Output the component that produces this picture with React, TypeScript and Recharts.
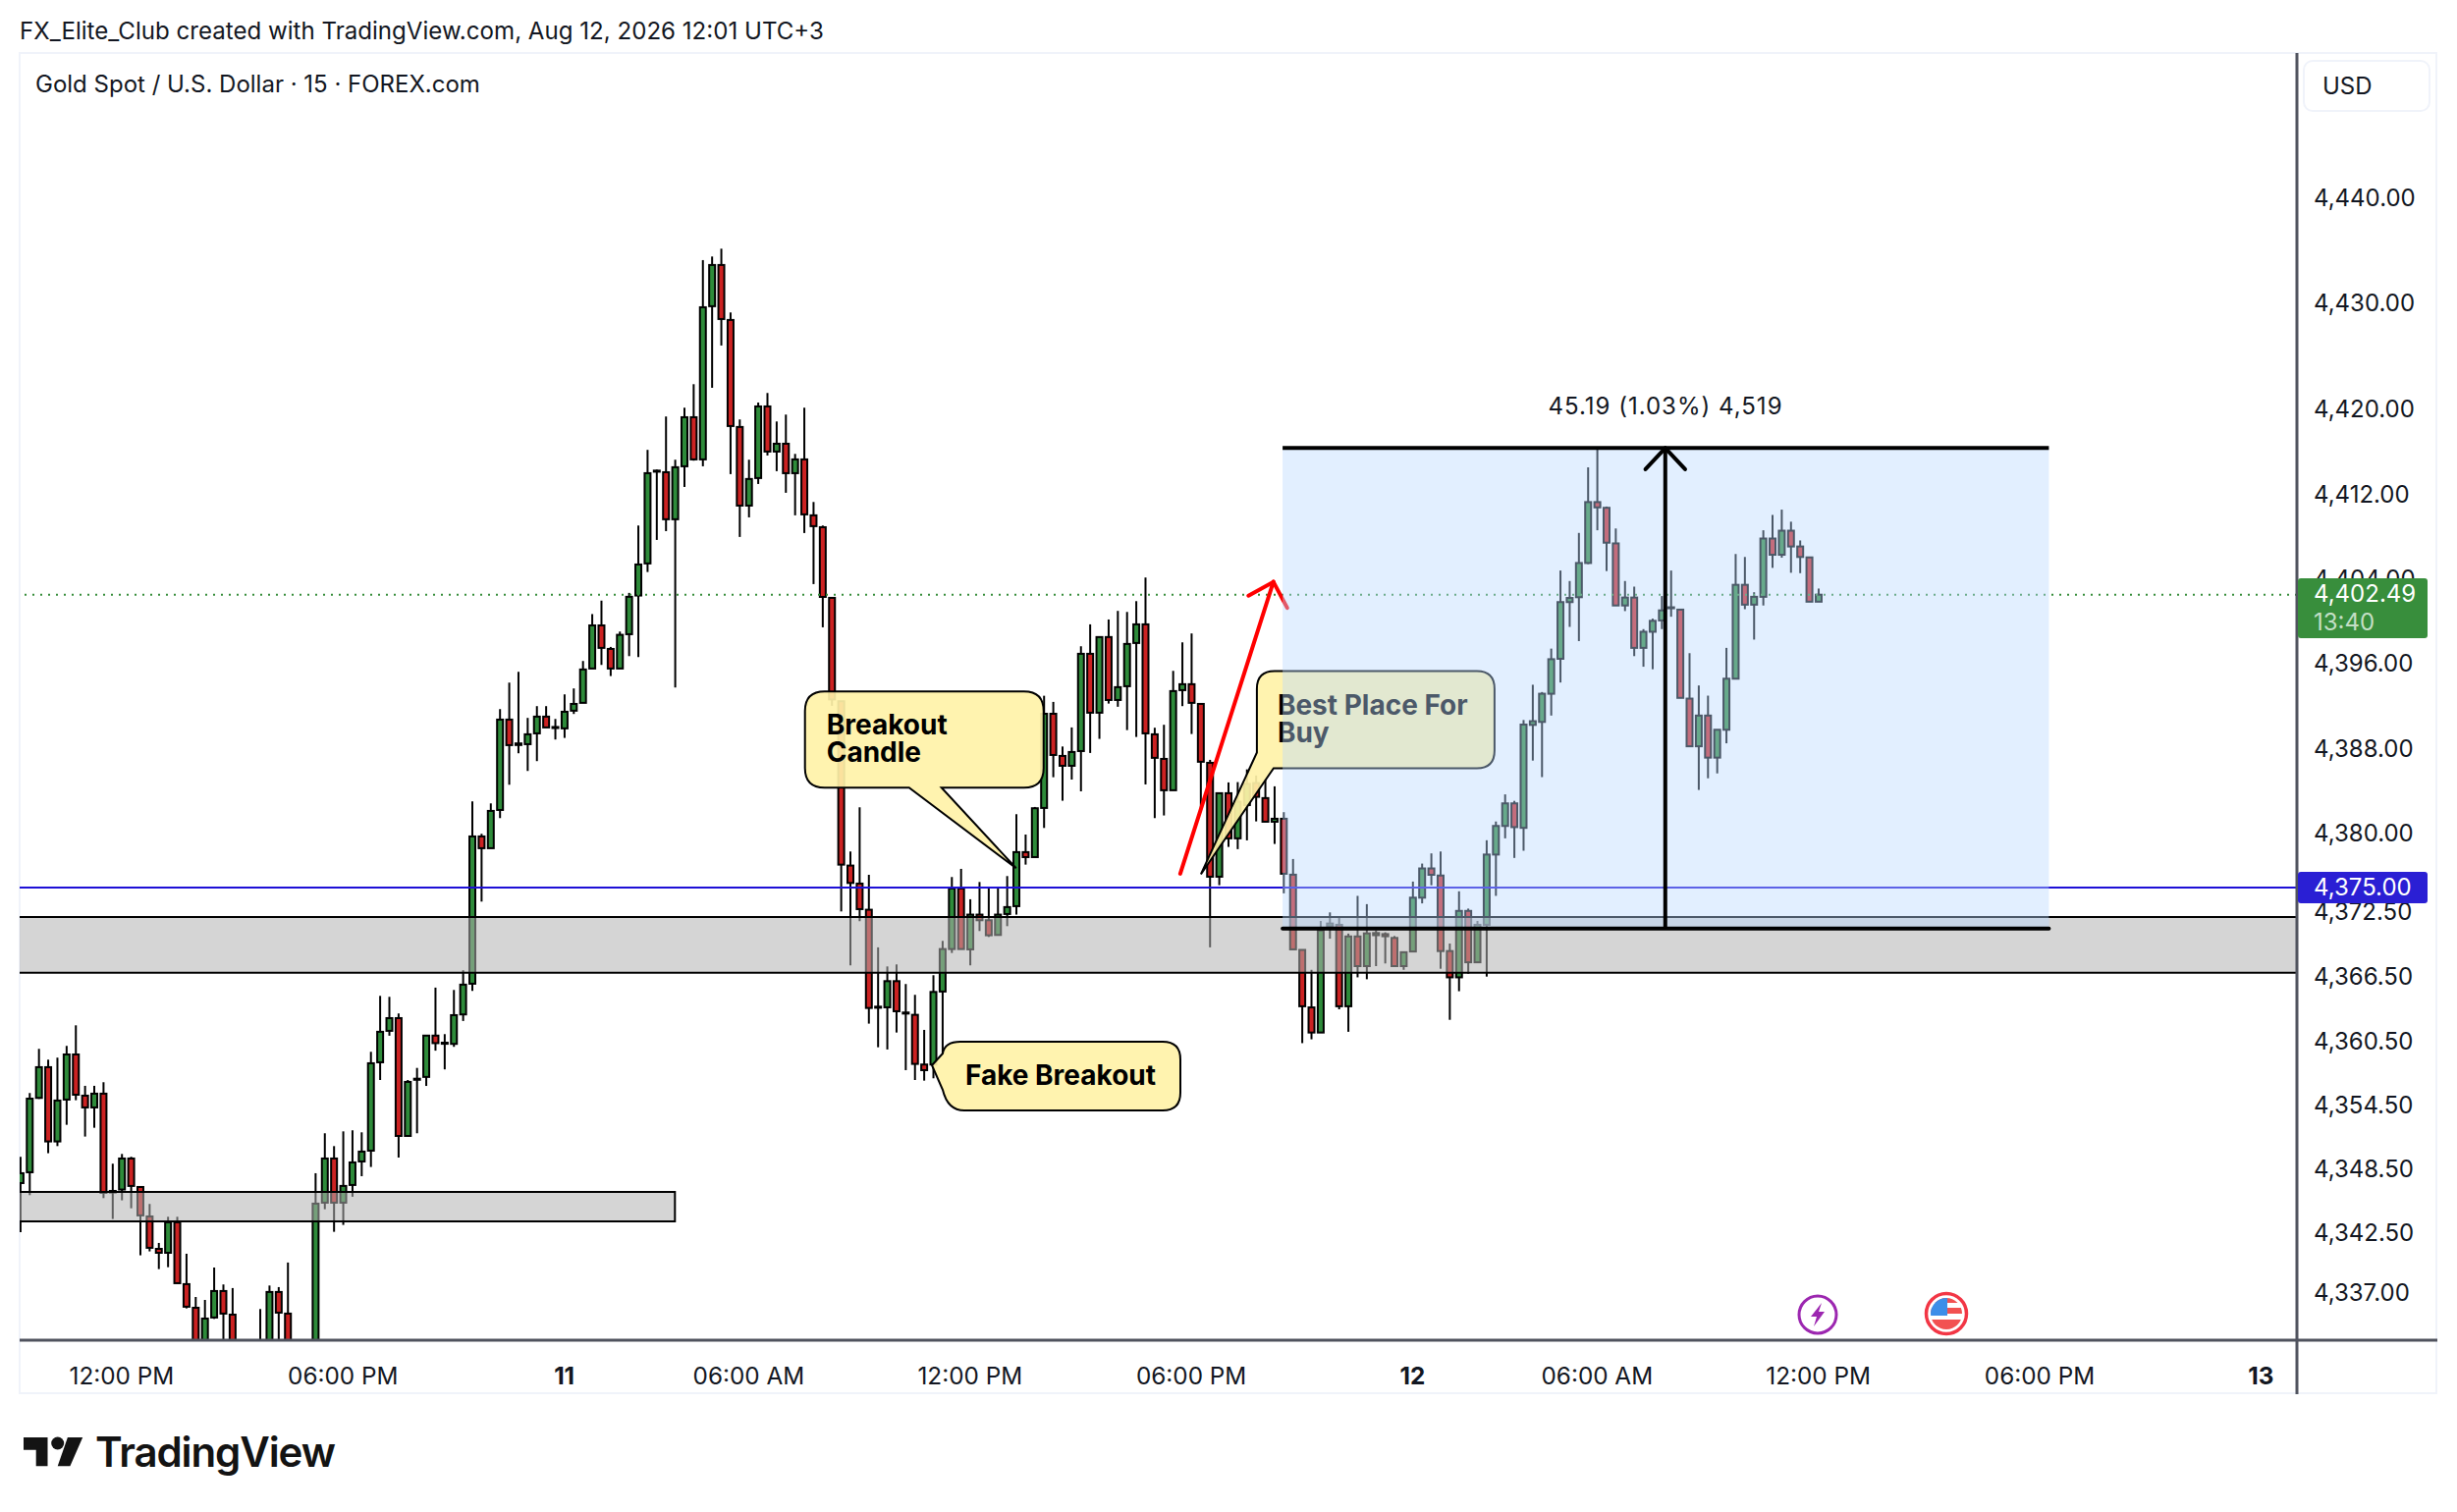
import React from 'react'
import {
  ComposedChart,
  Bar,
  XAxis,
  YAxis,
  ReferenceArea,
  ReferenceLine,
  ReferenceDot
} from 'recharts'

const W = 2502
const H = 1540
const FONT = 'Inter, Roboto, sans-serif'

// 15 min candles, index 0 is the one cut by the left edge
const opens = [
  4346.95, 4347.97, 4354.99, 4357.89, 4350.88, 4354.83, 4359.09, 4355.2, 4354.09, 4355.39,
  4346.06, 4346.34, 4349.27, 4346.58, 4343.8, 4340.74, 4340.37, 4343.25, 4337.41, 4335.18,
  4330.5, 4334.26, 4336.76, 4334.53, 4330.0, 4331.1, 4329.8, 4331.2, 4336.67, 4334.63,
  4331.2, 4330.4, 4330.9, 4345.1, 4349.27, 4345.1, 4346.77, 4348.99, 4350.01, 4358.35,
  4361.32, 4362.52, 4351.4, 4356.7, 4356.97, 4360.87, 4360.2, 4360.09, 4362.87, 4365.77,
  4379.67, 4378.56, 4382.17, 4390.7, 4388.3, 4388.38, 4389.4, 4390.98, 4390.0, 4389.87,
  4391.54, 4392.28, 4395.52, 4399.59, 4397.37, 4395.52, 4398.76, 4402.41, 4405.44, 4414.1,
  4414.05, 4409.61, 4414.61, 4419.24, 4415.26, 4429.72, 4433.61, 4428.42, 4418.32, 4410.9,
  4413.5, 4420.26, 4416.0, 4416.74, 4413.96, 4415.26, 4409.98, 4408.86, 4402.19, 4392.43,
  4376.92, 4375.22, 4372.75, 4363.5, 4363.54, 4366.01, 4363.05, 4362.83, 4358.14, 4358.14,
  4365.03, 4369.04, 4374.76, 4369.01, 4372.29, 4371.76, 4370.37, 4372.35, 4373.09, 4378.19,
  4377.72, 4382.36, 4391.25, 4387.27, 4386.34, 4387.73, 4396.91, 4391.35, 4398.49, 4392.55,
  4393.85, 4397.93, 4399.69, 4389.31, 4386.99, 4384.03, 4393.48, 4394.04, 4392.18, 4386.62,
  4375.87, 4383.75, 4379.49, 4382.63, 4384.71, 4383.29, 4381.06, 4381.34, 4376.06, 4368.96,
  4363.53, 4361.16, 4371.2, 4371.33, 4363.64, 4370.23, 4367.43, 4370.35, 4370.45, 4370.09,
  4367.43, 4368.81, 4373.89, 4376.65, 4375.98, 4368.85, 4366.37, 4372.64, 4367.79, 4371.33,
  4377.96, 4380.66, 4382.79, 4380.48, 4390.2, 4390.48, 4393.14, 4396.44, 4401.79, 4402.25,
  4405.48, 4411.23, 4410.69, 4407.33, 4401.47, 4402.22, 4397.47, 4398.99, 4400.06, 4401.25,
  4401.08, 4392.68, 4388.18, 4391.08, 4387.11, 4389.74, 4394.56, 4403.42, 4401.55, 4402.29,
  4407.79, 4406.26, 4408.53, 4407.04, 4406.01, 4401.83
]
const highs = [
  4349.43, 4355.45, 4359.62, 4358.6, 4358.79, 4359.9, 4361.84, 4356.13, 4356.13, 4356.47,
  4348.78, 4349.7, 4349.43, 4346.58, 4344.98, 4341.3, 4343.77, 4343.77, 4340.28, 4336.2,
  4335.92, 4338.98, 4337.38, 4337.04, 4331.7, 4331.6, 4335.06, 4337.28, 4337.13, 4339.45,
  4331.9, 4331.8, 4347.88, 4351.65, 4350.44, 4351.83, 4351.93, 4351.74, 4359.34, 4364.62,
  4364.53, 4362.96, 4356.68, 4357.82, 4360.87, 4365.4, 4361.01, 4365.18, 4367.04, 4382.98,
  4379.92, 4382.79, 4391.69, 4394.19, 4395.21, 4390.86, 4391.97, 4391.97, 4390.76, 4393.08,
  4393.64, 4396.23, 4400.66, 4401.93, 4397.56, 4399.01, 4402.66, 4409.02, 4416.16, 4414.3,
  4419.31, 4415.23, 4420.14, 4422.36, 4434.07, 4434.41, 4435.15, 4429.13, 4419.03, 4415.23,
  4420.63, 4421.53, 4418.84, 4419.49, 4415.78, 4420.14, 4411.24, 4409.02, 4402.19, 4392.43,
  4378.25, 4382.42, 4376.05, 4369.2, 4367.4, 4367.59, 4365.74, 4364.72, 4361.41, 4366.57,
  4369.81, 4375.84, 4376.61, 4373.74, 4375.37, 4374.85, 4374.85, 4375.93, 4381.77, 4379.85,
  4382.45, 4392.95, 4392.37, 4388.16, 4389.96, 4397.62, 4399.69, 4398.49, 4400.15, 4400.96,
  4400.86, 4401.88, 4404.11, 4389.93, 4390.21, 4395.3, 4397.99, 4398.83, 4392.18, 4386.9,
  4383.75, 4384.77, 4384.8, 4386.0, 4385.42, 4385.1, 4384.4, 4381.96, 4377.54, 4368.96,
  4367.08, 4371.69, 4372.5, 4372.04, 4370.5, 4374.06, 4373.28, 4370.8, 4370.62, 4370.27,
  4368.74, 4375.41, 4377.11, 4378.07, 4378.25, 4369.56, 4374.49, 4372.86, 4371.69, 4379.31,
  4381.08, 4383.64, 4383.03, 4390.66, 4393.99, 4393.3, 4397.4, 4404.77, 4403.78, 4408.32,
  4414.51, 4416.2, 4410.81, 4408.74, 4403.78, 4403.25, 4399.24, 4400.23, 4402.36, 4404.77,
  4401.08, 4396.97, 4393.92, 4392.96, 4389.74, 4397.47, 4406.33, 4406.05, 4402.72, 4408.57,
  4410.02, 4410.52, 4409.38, 4407.61, 4406.01, 4403.07
]
const lows = [
  4342.32, 4345.81, 4354.89, 4349.77, 4350.44, 4352.45, 4354.77, 4351.34, 4352.17, 4345.53,
  4343.56, 4345.32, 4344.57, 4340.13, 4340.5, 4338.83, 4339.01, 4337.5, 4335.12, 4329.5,
  4329.8, 4334.13, 4331.0, 4330.0, 4329.5, 4329.6, 4329.4, 4330.6, 4331.0, 4330.7,
  4329.9, 4329.7, 4330.4, 4344.48, 4342.35, 4343.0, 4345.66, 4347.6, 4348.47, 4356.68,
  4360.86, 4349.36, 4351.37, 4351.65, 4356.12, 4359.45, 4357.68, 4359.81, 4362.25, 4365.09,
  4373.52, 4378.56, 4381.4, 4384.55, 4387.52, 4385.85, 4386.78, 4389.96, 4388.82, 4388.97,
  4391.23, 4392.28, 4395.5, 4395.86, 4394.81, 4395.49, 4396.69, 4396.6, 4404.63, 4407.66,
  4408.49, 4393.73, 4412.66, 4415.14, 4414.61, 4422.02, 4426.01, 4413.87, 4407.94, 4409.79,
  4412.94, 4415.63, 4414.15, 4412.11, 4409.98, 4408.31, 4403.49, 4399.41, 4392.0, 4372.59,
  4367.5, 4371.67, 4362.0, 4359.77, 4359.56, 4361.16, 4357.61, 4356.68, 4356.62, 4356.84,
  4359.1, 4368.67, 4369.04, 4367.5, 4370.74, 4370.18, 4370.31, 4371.2, 4372.29, 4377.01,
  4377.72, 4380.47, 4385.26, 4383.04, 4385.04, 4383.93, 4387.55, 4388.88, 4392.21, 4391.91,
  4389.71, 4389.06, 4384.58, 4381.4, 4381.65, 4384.03, 4391.97, 4389.34, 4382.02, 4369.2,
  4375.07, 4378.68, 4378.47, 4379.3, 4381.09, 4381.06, 4378.96, 4374.3, 4369.01, 4360.16,
  4360.52, 4361.16, 4370.02, 4363.35, 4361.23, 4366.37, 4366.19, 4367.43, 4367.68, 4367.43,
  4367.08, 4368.81, 4373.35, 4375.06, 4367.18, 4362.36, 4365.06, 4366.72, 4367.79, 4366.44,
  4374.06, 4379.49, 4377.64, 4378.32, 4386.83, 4385.27, 4391.08, 4394.2, 4399.45, 4398.11,
  4405.38, 4408.57, 4404.72, 4401.47, 4400.94, 4396.69, 4395.69, 4395.45, 4399.24, 4400.41,
  4392.75, 4388.11, 4384.06, 4385.16, 4385.62, 4388.46, 4394.56, 4401.12, 4398.25, 4401.47,
  4405.02, 4405.98, 4404.56, 4404.52, 4401.83, 4401.83
]
const closes = [
  4347.88, 4354.92, 4357.89, 4350.88, 4354.74, 4359.09, 4355.29, 4354.09, 4355.39, 4346.03,
  4346.21, 4349.27, 4346.68, 4343.9, 4340.84, 4340.37, 4343.25, 4337.5, 4335.28, 4330.43,
  4334.16, 4336.76, 4334.63, 4330.9, 4331.2, 4330.4, 4331.6, 4336.67, 4334.72, 4331.3,
  4330.3, 4331.0, 4345.01, 4349.27, 4345.1, 4346.68, 4348.9, 4349.92, 4358.26, 4361.23,
  4362.52, 4351.4, 4356.5, 4356.8, 4360.87, 4360.16, 4360.1, 4362.8, 4365.68, 4379.67,
  4378.56, 4382.08, 4390.7, 4388.29, 4388.45, 4389.31, 4390.98, 4389.96, 4389.9, 4391.44,
  4392.18, 4395.43, 4399.59, 4397.47, 4395.52, 4398.7, 4402.29, 4405.34, 4413.96, 4414.2,
  4409.61, 4414.52, 4419.24, 4415.26, 4429.62, 4433.61, 4428.51, 4418.41, 4410.9, 4413.41,
  4420.26, 4416.0, 4416.74, 4413.96, 4415.26, 4410.07, 4408.96, 4402.28, 4392.6, 4377.01,
  4375.28, 4372.81, 4363.48, 4363.6, 4366.01, 4363.17, 4362.95, 4358.2, 4357.61, 4364.99,
  4369.04, 4374.76, 4369.04, 4372.29, 4371.76, 4370.34, 4372.29, 4373.0, 4378.19, 4377.72,
  4382.33, 4391.25, 4387.36, 4386.34, 4387.64, 4396.91, 4391.35, 4398.49, 4392.55, 4393.76,
  4397.84, 4399.69, 4389.4, 4387.09, 4384.03, 4393.39, 4394.04, 4392.28, 4386.72, 4375.87,
  4383.75, 4379.49, 4382.95, 4384.63, 4383.41, 4381.06, 4381.34, 4376.15, 4369.01, 4363.64,
  4361.16, 4370.8, 4371.45, 4363.64, 4370.23, 4367.43, 4370.52, 4370.55, 4370.25, 4367.43,
  4368.74, 4373.89, 4376.65, 4376.05, 4368.85, 4366.37, 4372.64, 4367.79, 4371.33, 4377.96,
  4380.66, 4382.79, 4380.55, 4390.23, 4390.55, 4393.14, 4396.4, 4401.79, 4402.18, 4405.48,
  4411.23, 4410.73, 4407.4, 4401.47, 4402.22, 4397.47, 4398.99, 4400.02, 4401.01, 4401.3,
  4392.75, 4388.18, 4391.08, 4387.11, 4389.74, 4394.56, 4403.42, 4401.55, 4402.29, 4407.79,
  4406.26, 4408.53, 4407.04, 4406.05, 4401.83, 4402.49
]

const priceTicks = [4440, 4430, 4420, 4412, 4404, 4396, 4388, 4380, 4372.5, 4366.5, 4360.5, 4354.5, 4348.5, 4342.5, 4337]
const timeTickIndex = [11, 35, 59, 79, 103, 127, 151, 171, 195, 219, 243]
const timeTickLabels = ['12:00 PM', '06:00 PM', '11', '06:00 AM', '12:00 PM', '06:00 PM', '12', '06:00 AM', '12:00 PM', '06:00 PM', '13']
const dayLabels = ['11', '12', '13']

const candles = opens.map((open, i) => ({
  i,
  open,
  high: highs[i],
  low: lows[i],
  close: closes[i],
  range: [lows[i], highs[i]]
}))

const PRICE_DOMAIN = [4332.12, 4453.62]
const INDEX_DOMAIN = [-0.064, 246.9]
const LAST_PRICE = 4402.49
const LEVEL = 4375

const formatPrice = (v: number) =>
  v.toLocaleString('en-US', { minimumFractionDigits: 2, maximumFractionDigits: 2 })

function Candle(props: any) {
  const { x, y, width, height, payload } = props
  const { open, high, low, close } = payload
  const cx = x + width / 2
  const unit = height / (high - low)
  const top = y + (high - Math.max(open, close)) * unit
  const bottom = y + (high - Math.min(open, close)) * unit
  const fill = close >= open ? '#2e8b3a' : '#cc2222'
  return (
    <g>
      <line x1={cx} x2={cx} y1={y} y2={y + height} stroke="#000" strokeWidth={2} />
      <rect x={x} y={top} width={width} height={Math.max(bottom - top, 1)} fill={fill} stroke="#000" strokeWidth={2} />
    </g>
  )
}

function TimeTick(props: any) {
  const { x, y, payload } = props
  const label = timeTickLabels[timeTickIndex.indexOf(payload.value)]
  const isDay = dayLabels.includes(label)
  return (
    <text x={x} y={y + 37} textAnchor="middle" fontSize={24.3} fontFamily={FONT} fontWeight={isDay ? 700 : 400} fill="#131722">
      {label}
    </text>
  )
}

// the labels near the bottom sit a little below their level in the source
function labelShift(v: number) {
  if (v === 4337) return 4.5
  if (v === 4342.5) return 3
  if (v <= 4360.5) return 2
  if (v === 4440) return 1
  if (v === 4372.5) return -1
  return 0
}

function PriceTick(props: any) {
  const { x, y, payload } = props
  const v = payload.value
  return (
    <text x={x} y={y + 8.5 + labelShift(v)} textAnchor="start" fontSize={24} fontFamily={FONT} fill="#131722">
      {formatPrice(v)}
    </text>
  )
}

const BUBBLE_STYLE = { fill: '#fff2a8', fillOpacity: 0.92, stroke: '#000', strokeWidth: 2 }

function bubble(d: string, lines: string[], textX: number, textY: number, anchor = 'start') {
  return (props: any) => {
    const { cx, cy } = props
    return (
      <g transform={`translate(${cx},${cy})`}>
        <path d={d} {...BUBBLE_STYLE} />
        {lines.map((t, n) => (
          <text key={t} x={textX} y={textY + n * 28} textAnchor={anchor} fontFamily={FONT} fontSize={28} fontWeight={700} fill="#000">
            {t}
          </text>
        ))}
      </g>
    )
  }
}

const BreakoutBubble = bubble(
  'M-195,-180 H8 Q28,-180 28,-160 V-102 Q28,-82 8,-82 H-76 L0,0 L-109,-82 H-195 Q-215,-82 -215,-102 V-160 Q-215,-180 -195,-180 Z',
  ['Breakout', 'Candle'],
  -193,
  -136
)
const FakeBubble = bubble(
  'M29,-24 H235 Q253,-24 253,-6 V28 Q253,46 235,46 H33 Q16,46 11,25 L0,0 L11,-12 Q13,-24 29,-24 Z',
  ['Fake Breakout'],
  131,
  20,
  'middle'
)
const BestBubble = bubble(
  'M75,-207 H281 Q299,-207 299,-189 V-126 Q299,-108 281,-108 H74 L0,0 L57,-124 V-189 Q57,-207 75,-207 Z',
  ['Best Place For', 'Buy'],
  78,
  -162
)

const noDot = { r: 0 }

export default function App() {
  return (
    <div style={{ position: 'absolute', left: 0, top: 0, width: W, height: H, background: '#fff', overflow: 'hidden', fontFamily: FONT, color: '#131722' }}>
      {/* frame around pane and scales */}
      <div style={{ position: 'absolute', left: 19, top: 53, width: 2463, height: 1367, border: '2px solid #f0f3fa', boxSizing: 'border-box' }} />

      <ComposedChart
        width={W}
        height={H}
        data={candles}
        margin={{ top: 54, right: 20, bottom: 120, left: 20 }}
        style={{ position: 'absolute', left: 0, top: 0 }}
      >
        <XAxis
          dataKey="i"
          type="number"
          domain={INDEX_DOMAIN}
          allowDataOverflow
          ticks={timeTickIndex}
          interval={0}
          height={55}
          tick={<TimeTick />}
          tickLine={false}
          axisLine={{ stroke: '#50535e', strokeWidth: 3 }}
        />
        <YAxis
          orientation="right"
          type="number"
          domain={PRICE_DOMAIN}
          allowDataOverflow
          ticks={priceTicks}
          interval={0}
          width={143}
          tickSize={0}
          tickMargin={17}
          tick={<PriceTick />}
          tickLine={false}
          axisLine={{ stroke: '#50535e', strokeWidth: 3 }}
        />

        <Bar dataKey="range" barSize={6} shape={<Candle />} isAnimationActive={false} />

        {/* support zones */}
        <ReferenceArea x1={-2} x2={250} y1={4366.81} y2={4372.07} fill="#b2b2b2" fillOpacity={0.54} stroke="none" ifOverflow="hidden" zIndex={310} />
        <ReferenceLine y={4372.07} stroke="#000" strokeWidth={2} zIndex={311} />
        <ReferenceLine y={4366.81} stroke="#000" strokeWidth={2} zIndex={311} />
        <ReferenceArea x1={-2} x2={71} y1={4343.34} y2={4346.12} fill="#b2b2b2" fillOpacity={0.54} stroke="#000" strokeWidth={2} ifOverflow="hidden" zIndex={310} />

        <ReferenceLine y={LEVEL - 0.15} stroke="#1e10d6" strokeWidth={2} zIndex={312} />
        <ReferenceLine y={LAST_PRICE} stroke="#388e3c" strokeWidth={2} strokeDasharray="2 6" zIndex={312} />

        {/* red arrow */}
        <ReferenceLine segment={[{ x: 125.8, y: 4376.15 }, { x: 135.9, y: 4403.7 }]} stroke="#ff0000" strokeWidth={4} strokeLinecap="round" ifOverflow="visible" zIndex={313} />
        <ReferenceLine segment={[{ x: 133.2, y: 4402.4 }, { x: 135.9, y: 4403.7 }]} stroke="#ff0000" strokeWidth={4} strokeLinecap="round" ifOverflow="visible" zIndex={313} />
        <ReferenceLine segment={[{ x: 137.4, y: 4401.24 }, { x: 135.9, y: 4403.7 }]} stroke="#ff0000" strokeWidth={4} strokeLinecap="round" ifOverflow="visible" zIndex={313} />

        <ReferenceDot x={108} y={4376.67} ifOverflow="visible" shape={BreakoutBubble} zIndex={314} {...noDot} />
        <ReferenceDot x={98.87} y={4358.07} ifOverflow="visible" shape={FakeBubble} zIndex={314} {...noDot} />
        <ReferenceDot x={128.04} y={4376.1} ifOverflow="visible" shape={BestBubble} zIndex={314} {...noDot} />

        {/* long position box */}
        <ReferenceArea x1={136.9} x2={220} y1={4370.97} y2={4416.33} fill="#b8d8ff" fillOpacity={0.41} stroke="none" ifOverflow="visible" zIndex={315} />
        <ReferenceLine segment={[{ x: 136.9, y: 4416.33 }, { x: 220, y: 4416.33 }]} stroke="#000" strokeWidth={4} ifOverflow="visible" zIndex={316} />
        <ReferenceLine segment={[{ x: 136.9, y: 4370.97 }, { x: 220, y: 4370.97 }]} stroke="#000" strokeWidth={4} strokeLinecap="round" ifOverflow="visible" zIndex={316} />
        <ReferenceLine segment={[{ x: 178.4, y: 4370.97 }, { x: 178.4, y: 4416.33 }]} stroke="#000" strokeWidth={4} ifOverflow="visible" zIndex={316} />
        <ReferenceLine segment={[{ x: 176.25, y: 4414.33 }, { x: 178.4, y: 4416.33 }]} stroke="#000" strokeWidth={4} strokeLinecap="round" ifOverflow="visible" zIndex={316} />
        <ReferenceLine segment={[{ x: 180.55, y: 4414.33 }, { x: 178.4, y: 4416.33 }]} stroke="#000" strokeWidth={4} strokeLinecap="round" ifOverflow="visible" zIndex={316} />
      </ComposedChart>

      {/* header, tags, icons, logo */}
      <svg width={W} height={H} style={{ position: 'absolute', left: 0, top: 0 }}>
        <text x={20} y={40} fontSize={24.1} fontFamily={FONT} fill="#131722">FX_Elite_Club created with TradingView.com, Aug 12, 2026 12:01 UTC+3</text>
        <text x={36} y={94} fontSize={24} fontFamily={FONT} fill="#131722">Gold Spot / U.S. Dollar · 15 · FOREX.com</text>

        <rect x={2346} y={62} width={128} height={51} rx={9} fill="#fff" stroke="#f0f3fa" strokeWidth={2} />
        <text x={2365} y={96} fontSize={24} fontFamily={FONT} fill="#131722">USD</text>
        <line x1={2339} x2={2339} y1={1365} y2={1420} stroke="#50535e" strokeWidth={3} />
        <line x1={2339} x2={2482} y1={1365} y2={1365} stroke="#50535e" strokeWidth={3} />

        <text x={1696} y={422} textAnchor="middle" fontSize={24} letterSpacing={1} fontFamily={FONT} fill="#131722">45.19 (1.03%) 4,519</text>

        <rect x={2340} y={589} width={132} height={61} rx={3} fill="#388e3c" />
        <text x={2356} y={613} fontSize={24} fontFamily={FONT} fill="#fff">{formatPrice(LAST_PRICE)}</text>
        <text x={2356} y={642} fontSize={24} fontFamily={FONT} fill="#c3dfc5">13:40</text>
        <rect x={2340} y={888} width={132} height={32} rx={3} fill="#2a1fd4" />
        <text x={2356} y={912} fontSize={24} fontFamily={FONT} fill="#fff">{formatPrice(LEVEL)}</text>

        <circle cx={1851} cy={1339} r={19} fill="#fff" stroke="#9c27b0" strokeWidth={3} />
        <path d="M1855,1327 L1844,1341 H1850 L1847,1351 L1858,1336 H1852 Z" fill="#9c27b0" />

        <clipPath id="flagClip"><circle cx={1982} cy={1338} r={16} /></clipPath>
        <circle cx={1982} cy={1338} r={20.5} fill="#fff" stroke="#f23645" strokeWidth={3.5} />
        <g clipPath="url(#flagClip)">
          <rect x={1966} y={1322} width={32} height={32} fill="#fff" />
          <rect x={1966} y={1322} width={32} height={5} fill="#f25151" />
          <rect x={1966} y={1332} width={32} height={6} fill="#f25151" />
          <rect x={1966} y={1344} width={32} height={10} fill="#f25151" />
          <rect x={1966} y={1322} width={17} height={18} fill="#3d8ee8" />
        </g>

        <path d="M24,1464 H48.5 V1493.3 H36.7 V1476.7 H24 Z" fill="#131313" />
        <circle cx={58.7} cy={1470} r={6.5} fill="#131313" />
        <path d="M68.9,1464 H84.2 L71.4,1493.3 H58.7 Z" fill="#131313" />
        <text x={97} y={1494} fontSize={42} fontWeight={600} letterSpacing={-1.1} fontFamily={FONT} fill="#131313">TradingView</text>
      </svg>
    </div>
  )
}
